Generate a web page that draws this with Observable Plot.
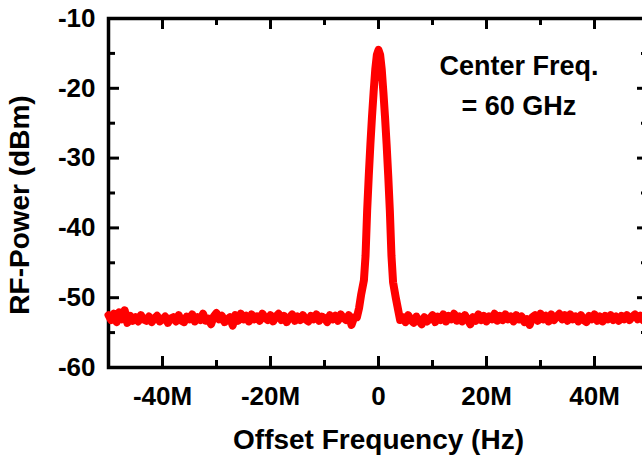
<!DOCTYPE html>
<html>
<head>
<meta charset="utf-8">
<script src="https://cdn.jsdelivr.net/npm/d3@7"></script>
<script src="https://cdn.jsdelivr.net/npm/@observablehq/plot@0.6"></script>
<style>
  html, body { margin: 0; padding: 0; background: #fff; overflow: hidden; }
  #chart { width: 642px; height: 462px; overflow: hidden; }
  #chart svg { max-width: none !important; }
</style>
</head>
<body>
<div id="chart"></div>
<script>
// ---- Data (offset in MHz, power in dBm) ----
const leftNoiseX = d3.range(-50, -4.25, 0.5);
const leftNoiseY = [
  -52.5,-53.2,-52.3,-53.5,-52.1,-53.1,-51.8,-53.6,-52.6,-53.3,
  -52.8,-53.4,-52.5,-53.1,-53.3,-52.7,-53.5,-53.0,-52.6,-53.4,
  -53.1,-52.7,-53.6,-53.0,-52.8,-53.4,-52.5,-53.3,-53.5,-52.7,
  -53.1,-52.4,-53.4,-52.8,-53.2,-52.3,-53.3,-53.0,-53.8,-52.7,
  -52.2,-53.1,-52.6,-53.5,-53.1,-52.8,-54.0,-52.5,-53.3,-52.3,
  -53.1,-52.6,-53.4,-52.4,-53.1,-52.7,-53.3,-52.3,-52.9,-53.2,
  -52.5,-53.4,-52.7,-52.3,-53.2,-52.6,-53.5,-52.9,-52.4,-53.3,
  -52.7,-53.2,-52.5,-53.1,-53.4,-52.6,-53.1,-52.4,-53.3,-52.7,
  -52.9,-53.5,-52.5,-53.1,-52.6,-53.3,-52.4,-52.9,-53.2,-52.5,
  -53.9,-52.8
];
const peakX = [-4, -3.6, -3.2, -2.7, -2.4, -2.1, -1.8, -1.5, -1.2, -0.9, -0.6, -0.3, 0,
               0.3, 0.6, 0.9, 1.2, 1.5, 1.8, 2.1, 2.4, 2.7, 3.2, 3.6, 4];
const peakY = [-52.8, -51.5, -49.5, -47.5, -44, -37.5, -32.5, -28, -24, -20.5, -17.3, -15.2, -14.5,
               -15.2, -17.3, -20.5, -24, -28, -32.5, -37.5, -44, -47.8, -50, -51.6, -53.2];
const rightNoiseX = d3.range(4.5, 50.25, 0.5);
const rightNoiseY = [
  -52.8,-53.5,-52.5,-53.2,-53.6,-52.7,-53.3,-53.8,-52.8,-53.4,
  -53.0,-52.5,-53.5,-52.7,-53.2,-52.4,-53.4,-52.6,-53.1,-52.3,
  -53.3,-52.7,-53.4,-52.5,-53.1,-53.8,-52.8,-53.3,-52.4,-53.2,
  -52.6,-53.4,-52.7,-53.1,-52.3,-53.3,-52.6,-53.2,-52.4,-53.1,
  -52.7,-53.4,-52.5,-53.1,-52.7,-53.5,-53.1,-53.9,-52.8,-52.5,
  -53.3,-52.3,-53.1,-52.6,-53.4,-52.4,-53.2,-52.7,-52.3,-53.1,
  -52.5,-53.3,-52.4,-53.1,-52.7,-53.4,-52.5,-53.2,-53.5,-52.6,
  -53.1,-52.4,-53.3,-52.7,-53.4,-52.6,-53.1,-52.5,-53.2,-52.7,
  -53.3,-52.6,-53.1,-52.5,-53.2,-52.7,-52.4,-53.1,-52.6,-53.2,
  -52.7,-53.0
];

const xMajorTicks = [-40, -20, 0, 20, 40];
const xMinorTicks = [-30, -10, 10, 30];
const yMajorTicks = [-60, -50, -40, -30, -20, -10];
const yMinorTicks = [-55, -45, -35, -25, -15];
const xTitle = "Offset Frequency (Hz)";
const yTitle = "RF-Power (dBm)";
const annotation = [
  {x: 26, y: -16.9, text: "Center Freq."},
  {x: 26, y: -22.6, text: "= 60 GHz"}
];

// ---- Build series ----
const series = [];
leftNoiseX.forEach((x, i) => { if (leftNoiseY[i] !== undefined) series.push({x, y: leftNoiseY[i]}); });
peakX.forEach((x, i) => series.push({x, y: peakY[i]}));
rightNoiseX.forEach((x, i) => { if (rightNoiseY[i] !== undefined) series.push({x, y: rightNoiseY[i]}); });

const W = 648, H = 462, mL = 108, mR = 0, mT = 18, mB = 95;
const pw = W - mL - mR, ph = H - mT - mB;
const font = "'Liberation Sans', Arial, sans-serif";
const major = 11, minor = 7, tw = 3;

const chart = Plot.plot({
  width: W, height: H,
  marginLeft: mL, marginRight: mR, marginTop: mT, marginBottom: mB,
  style: {background: "#fff", fontFamily: font, overflow: "visible", maxWidth: "none"},
  x: {domain: [-50, 50]},
  y: {domain: [-60, -10]},
  marks: [
    Plot.axisX({ticks: xMajorTicks, tickSize: 0, tickPadding: 19, label: null,
      tickFormat: d => d === 0 ? "0" : `${d}M`, fontSize: 26, fontWeight: "bold", fill: "#000"}),
    Plot.axisY({ticks: yMajorTicks, tickSize: 0, tickPadding: 13, label: null,
      tickFormat: d => String(d), fontSize: 26, fontWeight: "bold", fill: "#000"}),
    // inward ticks
    Plot.ruleX(xMajorTicks, {x: d => d, stroke: "#000", strokeWidth: tw, insetTop: ph - major}),
    Plot.ruleX(xMinorTicks, {x: d => d, stroke: "#000", strokeWidth: tw, insetTop: ph - minor}),
    Plot.ruleX(xMajorTicks, {x: d => d, stroke: "#000", strokeWidth: tw, insetBottom: ph - major}),
    Plot.ruleX(xMinorTicks, {x: d => d, stroke: "#000", strokeWidth: tw, insetBottom: ph - minor}),
    Plot.ruleY(yMajorTicks, {y: d => d, stroke: "#000", strokeWidth: tw, insetRight: pw - major}),
    Plot.ruleY(yMinorTicks, {y: d => d, stroke: "#000", strokeWidth: tw, insetRight: pw - minor}),
    Plot.ruleY(yMajorTicks, {y: d => d, stroke: "#000", strokeWidth: tw, insetLeft: pw - major}),
    Plot.ruleY(yMinorTicks, {y: d => d, stroke: "#000", strokeWidth: tw, insetLeft: pw - minor}),
    Plot.frame({stroke: "#000", strokeWidth: 3.5}),
    Plot.line(series, {x: "x", y: "y", stroke: "#ff0000", strokeWidth: 8, strokeLinejoin: "round", strokeLinecap: "round"}),
    Plot.text(annotation, {x: "x", y: "y", text: "text", fontSize: 27, fontWeight: "bold", fill: "#000", textAnchor: "middle"}),
    Plot.text([xTitle], {frameAnchor: "bottom", dy: 81, fontSize: 28, fontWeight: "bold", fill: "#000", textAnchor: "middle"}),
    Plot.text([yTitle], {frameAnchor: "left", dx: -88, dy: 12, rotate: -90, fontSize: 28, fontWeight: "bold", fill: "#000", textAnchor: "middle"})
  ]
});
document.getElementById("chart").appendChild(chart);
</script>
</body>
</html>
